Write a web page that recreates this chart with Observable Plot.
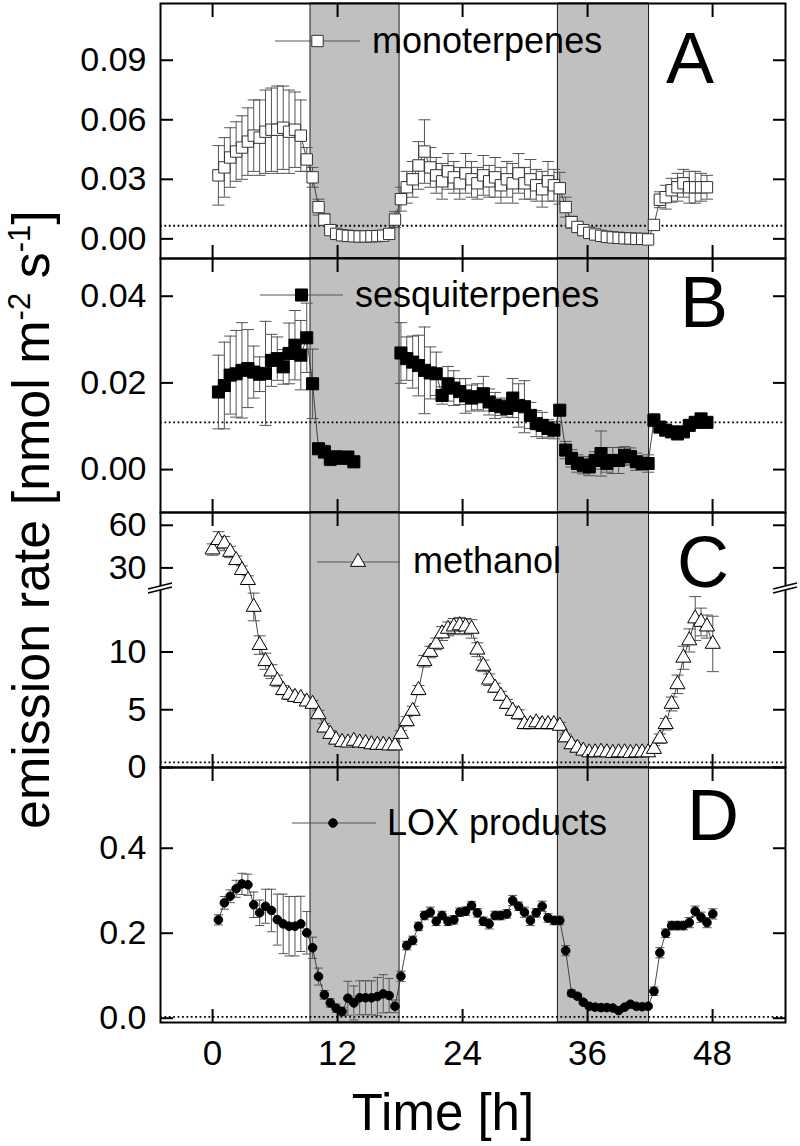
<!DOCTYPE html>
<html><head><meta charset="utf-8">
<script src="https://cdn.jsdelivr.net/npm/d3@7"></script>
<script src="https://cdn.jsdelivr.net/npm/@observablehq/plot@0.6"></script>
<style>
body{margin:0;background:#fff;}
#chart{position:relative;width:800px;height:1146px;font-family:"Liberation Sans",Arial,sans-serif;}
#chart svg{position:absolute;left:0;}
</style></head><body><div id="chart"></div>
<script>
// ---------- data ----------
const hours = [0.00,0.56,1.13,1.69,2.26,2.82,3.39,3.95,4.52,5.08,
 5.65,6.21,6.78,7.34,7.91,8.47,9.04,9.60,10.17,10.73,
 11.30,11.86,12.43,12.99,13.56,14.12,14.69,15.25,15.82,16.38,
 16.95,17.51,18.08,18.64,19.21,19.77,20.34,20.90,21.47,22.03,
 22.60,23.16,23.73,24.29,24.86,25.42,25.99,26.55,27.12,27.68,
 28.25,28.81,29.38,29.94,30.51,31.07,31.64,32.20,32.77,33.33,
 33.90,34.46,35.03,35.59,36.16,36.72,37.29,37.85,38.42,38.98,
 39.55,40.11,40.68,41.24,41.81,42.37,42.94,43.50,44.07,44.63,
 45.20,45.76,46.33,46.89,47.46,48.02];
const nightStart = [9.4, 33.15];
const nightEnd = [17.95, 41.9];
const xTicks = [0, 12, 24, 36, 48];
const seriesNames = ["monoterpenes", "sesquiterpenes", "methanol", "LOX products"];
const panelLetters = ["A", "B", "C", "D"];

const mono = [0.032,0.036,0.041,0.044,0.046,0.049,0.052,0.051,0.054,0.055,0.055,0.056,0.054,0.055,0.052,
 0.040,0.031,0.016,0.0097,0.0044,0.0025,0.0018,0.0015,0.0013,0.0012,0.0012,0.0013,0.0014,0.0016,0.0025,0.0097,
 0.020,0.026,0.030,0.037,0.044,0.036,0.032,0.029,0.034,0.031,0.028,0.033,0.030,0.028,0.032,0.029,0.031,0.027,0.030,0.028,0.033,0.028,0.030,0.027,0.025,0.029,0.027,0.0255,
 0.016,0.0084,0.006,0.0044,0.003,0.0022,0.0015,0.001,0.0007,0.0005,0.0003,0.0002,0.0,0.0,-0.0003,
 0.007,0.0197,0.021,0.0245,0.026,0.028,0.026,0.026,0.026,0.026];
const monoErr = [0.015,0.015,0.015,0.015,0.016,0.017,0.018,0.019,0.021,0.021,0.022,0.021,0.021,0.019,0.018,
 0.006,0.005,0.004,0.003,0.002,0.002,0.0015,0.0015,0.0015,0.0015,0.0015,0.0015,0.0015,0.0015,0.002,0.004,
 0.006,0.008,0.009,0.012,0.016,0.010,0.009,0.009,0.009,0.008,0.008,0.010,0.009,0.008,0.010,0.008,0.010,0.009,0.009,0.010,0.010,0.008,0.010,0.008,0.009,0.010,0.008,0.008,
 0.005,0.003,0.002,0.002,0.0015,0.0015,0.0015,0.0015,0.0015,0.0015,0.0015,0.0015,0.0015,0.0015,0.0015,
 0.002,0.004,0.006,0.006,0.007,0.007,0.008,0.008,0.007,0.006];

const sesq = [0.0179,0.0194,0.0218,0.0221,0.0229,0.0233,0.0225,0.0220,0.0222,0.0252,0.0256,0.0237,0.0268,0.0287,0.0264,0.0304,0.0198,0.0048,0.0041,0.0024,0.0029,0.0026,0.0029,0.0018,
 null,null,null,null,null,null,null,
 0.0269,0.0256,0.0248,0.0240,0.0229,0.0223,0.0221,0.0171,0.0198,0.0188,0.0180,0.0170,0.0165,0.0168,0.0175,0.0156,0.0148,0.0145,0.0141,0.0165,0.0148,0.0145,0.0125,0.0106,0.0102,0.0095,0.0091,0.0137,
 0.0045,0.0026,0.0014,0.0010,0.0006,0.0021,0.0037,0.0014,0.0021,0.0021,0.0033,0.0030,0.0018,0.0014,0.0014,
 0.0114,0.0098,0.0091,0.0087,0.0083,0.0087,0.0102,0.0109,0.0117,0.0109];
const sesqErr = [0.0085,0.010,0.009,0.010,0.011,0.009,0.006,0.004,0.012,0.006,0.005,0.004,0.007,0.008,0.008,0.008,0.008,0.001,0.0015,0.0015,0.0015,0.0012,0.001,0.001,
 null,null,null,null,null,null,null,
 0.007,0.005,0.006,0.007,0.010,0.006,0.005,0.002,0.004,0.004,0.003,0.004,0.003,0.003,0.004,0.003,0.003,0.002,0.002,0.0045,0.005,0.006,0.003,0.003,0.003,0.002,0.002,0.001,
 0.002,0.002,0.002,0.002,0.002,0.002,0.0052,0.002,0.003,0.003,0.002,0.002,0.002,0.0015,0.002,
 0.0015,0.001,0.001,0.001,0.0015,0.001,0.001,0.001,0.001,0.001];

const meoh = [42.9,49.5,47.1,41.2,35.4,28.4,21.4,13.9,10.6,9.2,8.3,7.5,6.7,6.3,6.1,6.0,5.7,
 5.5,4.6,3.45,2.9,2.4,2.2,2.15,2.3,2.15,2.1,2.0,1.95,1.95,1.9,1.9,
 2.9,4.0,4.9,6.7,9.2,10.0,10.7,11.6,12.0,12.2,12.3,12.2,12.0,
 10.2,8.8,7.6,6.9,6.2,5.5,4.9,4.6,3.75,3.75,3.9,3.75,3.75,3.75,
 3.6,2.6,2.0,1.7,1.45,1.3,1.3,1.35,1.3,1.25,1.3,1.3,1.25,1.3,1.3,1.3,
 1.6,2.5,3.75,5.5,7.2,9.5,11.0,12.9,12.6,12.2,10.7];
const meohErr = [4,6,5,4,3,3,3,1.2,0.8,0.7,0.6,0.5,0.4,0.4,0.3,0.3,0.3,
 0.3,0.35,0.35,0.3,0.3,0.3,0.3,0.3,0.3,0.3,0.3,0.3,0.3,0.3,0.3,
 0.3,0.4,0.4,0.4,0.5,0.5,0.5,0.6,0.6,0.7,0.7,0.7,0.8,
 0.6,0.5,0.5,0.4,0.4,0.4,0.4,0.4,0.4,0.4,0.4,0.4,0.4,0.4,
 0.3,0.3,0.3,0.3,0.3,0.3,0.3,0.3,0.3,0.3,0.3,0.3,0.3,0.3,0.3,0.3,
 0.3,0.4,0.5,0.6,0.8,1.0,1.0,1.9,1.2,1.0,2.4];

const lox = [0.2315,0.2715,0.287,0.3045,0.316,0.314,0.267,0.248,0.2635,0.2535,0.232,0.222,0.2165,0.2165,0.222,
 0.201,0.1657,0.098,0.055,0.036,0.0235,0.0158,0.047,0.036,0.048,0.048,0.048,0.051,0.0574,0.0534,0.028,
 0.0988,0.171,0.183,0.216,0.2417,0.2494,0.228,0.2417,0.228,0.2315,0.2494,0.2518,0.265,0.248,0.228,0.222,0.2417,0.2417,0.2455,0.277,0.2635,0.2494,0.230,0.248,0.2635,0.236,0.230,0.230,
 0.159,0.0588,0.0518,0.0377,0.028,0.026,0.025,0.025,0.024,0.018,0.026,0.033,0.028,0.027,0.028,
 0.0635,0.154,0.200,0.218,0.218,0.218,0.225,0.2518,0.2376,0.225,0.2455];
const loxErr = [0.012,0.015,0.015,0.02,0.025,0.025,0.03,0.03,0.04,0.05,0.06,0.07,0.07,0.07,0.065,
 0.05,0.025,0.02,0.01,0.01,0.01,0.01,0.04,0.04,0.04,0.04,0.04,0.045,0.045,0.04,0.015,
 0.012,0.01,0.01,0.01,0.01,0.012,0.01,0.01,0.01,0.01,0.01,0.01,0.01,0.01,0.01,0.012,0.01,0.01,0.01,0.012,0.01,0.012,0.012,0.01,0.012,0.01,0.01,0.01,
 0.012,0.008,0.006,0.005,0.004,0.004,0.004,0.004,0.004,0.004,0.004,0.005,0.004,0.004,0.004,
 0.01,0.012,0.01,0.01,0.01,0.01,0.012,0.012,0.012,0.012,0.012];

const limits = [0.0066, 0.0109, 0.45, 0.003];
const yTicksA = [0, 0.03, 0.06, 0.09];
const yTicksB = [0, 0.02, 0.04];
const yTicksC = [0, 5, 10, 30, 60];
const yTicksD = [0, 0.2, 0.4];
// methanol axis: linear up to the break, compressed above it
const breakC = 15.5, topC = 69, compressC = 0.123;

// ---------- drawing ----------
const FONT = "'Liberation Sans', Arial, Helvetica, sans-serif";
const root = document.getElementById("chart");
const nightRows = nightStart.map((s, i) => ({start: s, end: nightEnd[i]}));
const capSymbol = {draw(ctx, size) { const w = Math.sqrt(size / Math.PI); ctx.moveTo(-w, 0); ctx.lineTo(w, 0); }};
const identity = v => v;

function panel(cfg) {
  const f = cfg.squeeze || identity;
  const rows = cfg.values.map((v, i) => ({t: hours[i + cfg.offset], v, e: cfg.errors[i]}));
  const valid = rows.filter(d => d.v != null);
  // tick positions in (possibly squeezed) scale units, labelled with the original values
  const tickPos = cfg.yTicks.map(f);
  const tickLabel = new Map(cfg.yTicks.map(t => [f(t), cfg.fmt(t)]));
  const marks = [
    Plot.rect(nightRows, {x1: "start", x2: "end", fill: "#c0c0c0", stroke: "#1a1a1a", strokeWidth: 1}),
    Plot.ruleY([cfg.limit], {y: d => f(d), stroke: "#000", strokeWidth: 1.8, strokeDasharray: "1.8,2.6"}),
    Plot.ruleX(valid, {x: "t", y1: d => f(d.v - d.e), y2: d => f(d.v + d.e), stroke: "#555", strokeWidth: 1}),
    Plot.dot(valid, {x: "t", y: d => f(d.v + d.e), symbol: capSymbol, r: cfg.cap, fill: "none", stroke: "#555", strokeWidth: 1}),
    Plot.dot(valid, {x: "t", y: d => f(d.v - d.e), symbol: capSymbol, r: cfg.cap, fill: "none", stroke: "#555", strokeWidth: 1}),
    Plot.line(rows, {x: "t", y: d => d.v == null ? null : f(d.v), stroke: "#333", strokeWidth: 0.9}),
    Plot.dot(valid, {x: "t", y: d => f(d.v), symbol: cfg.symbol, r: cfg.r, fill: cfg.fill, stroke: cfg.stroke, strokeWidth: 1}),
    Plot.frame({stroke: "#000", strokeWidth: 2}),
    Plot.axisY({ticks: tickPos, anchor: "left", tickSize: 13, dx: 13, tickFormat: () => "", label: null, strokeWidth: 2}),
    Plot.axisY({ticks: tickPos, anchor: "right", tickSize: 13, dx: -13, tickFormat: () => "", label: null, strokeWidth: 2}),
    Plot.axisX({ticks: xTicks, anchor: "top", tickSize: 13, dy: 13, tickFormat: () => "", label: null, strokeWidth: 2}),
    Plot.axisX({ticks: xTicks, anchor: "bottom", tickSize: 13, dy: -13, tickFormat: () => "", label: null, strokeWidth: 2}),
    Plot.axisY({ticks: tickPos, anchor: "left", tickSize: 0, tickPadding: 14, tickFormat: v => tickLabel.get(v), fontSize: 34, label: null, fill: "#000"})
  ];
  if (cfg.xLabels) marks.push(Plot.axisX({ticks: xTicks, anchor: "bottom", tickSize: 0, tickPadding: 18, tickFormat: d => String(d), fontSize: 35, label: null, fill: "#000"}));
  const p = Plot.plot({
    width: 800, height: cfg.height,
    marginLeft: 160, marginRight: 15, marginTop: cfg.mt, marginBottom: cfg.mb,
    x: {domain: [-5, 55]}, y: {domain: cfg.yDomain.map(f)},
    style: {background: "transparent", overflow: "visible", fontFamily: FONT, color: "#000"},
    marks
  });
  p.style.top = cfg.top + "px";
  root.appendChild(p);
  return p;
}

const fmt2 = d3.format(".2f"), fmt1 = d3.format(".1f");
const squeeze = v => v <= breakC ? v : breakC + (v - breakC) * compressC;
const pA = panel({values: mono, errors: monoErr, offset: 1, yDomain: [-0.0099, 0.1186], yTicks: yTicksA, fmt: fmt2,
  symbol: "square", r: 6.4, fill: "#fff", stroke: "#333", cap: 6, limit: limits[0], top: 0, height: 268, mt: 3, mb: 10});
const pB = panel({values: sesq, errors: sesqErr, offset: 1, yDomain: [-0.0099, 0.0487], yTicks: yTicksB, fmt: fmt2,
  symbol: "square", r: 6.8, fill: "#000", stroke: "#000", cap: 6, limit: limits[1], top: 248, height: 274, mt: 10, mb: 10});
const pC = panel({values: meoh, errors: meohErr, offset: 0, yDomain: [0, topC], squeeze, yTicks: yTicksC, fmt: d => String(d),
  symbol: "triangle", r: 5.6, fill: "#fff", stroke: "#000", cap: 6, limit: limits[2], top: 502, height: 275, mt: 10, mb: 10});
const pD = panel({values: lox, errors: loxErr, offset: 1, yDomain: [-0.0101, 0.59], yTicks: yTicksD, fmt: fmt1,
  symbol: "circle", r: 4.3, fill: "#000", stroke: "#000", cap: 4.5, limit: limits[3], top: 757, height: 389, mt: 10, mb: 124, xLabels: true});

// ---------- overlay: titles, legends, panel letters, axis break ----------
const ov = d3.create("svg").attr("width", 800).attr("height", 1146)
  .style("top", "0px").style("font-family", FONT).style("pointer-events", "none");

// y-axis title
const yt = ov.append("text").attr("transform", "translate(49,829) rotate(-90)").attr("font-size", 52).attr("fill", "#000");
yt.append("tspan").text("emission rate [nmol m");
yt.append("tspan").attr("font-size", 31).attr("dy", -19).text("-2");
yt.append("tspan").attr("dy", 19).text(" s");
yt.append("tspan").attr("font-size", 31).attr("dy", -19).text("-1");
yt.append("tspan").attr("dy", 19).text("]");

// x-axis title
ov.append("text").attr("x", 443).attr("y", 1130).attr("text-anchor", "middle").attr("font-size", 51).attr("fill", "#000").text("Time [h]");

// panel letters
const letterPos = [[690, 83], [704, 327], [703, 587], [713, 840]];
panelLetters.forEach((L, i) => ov.append("text").attr("x", letterPos[i][0]).attr("y", letterPos[i][1])
  .attr("text-anchor", "middle").attr("font-size", 72).attr("fill", "#000").text(L));

// legends
const legendLayout = [
  {x1: 275, x2: 360, y: 41, sx: 317.5, tx: 372, ty: 53, sym: d3.symbolSquare, r: 6.4, fill: "#fff", stroke: "#333"},
  {x1: 260, x2: 343, y: 295, sx: 301.5, tx: 355, ty: 307, sym: d3.symbolSquare, r: 6.8, fill: "#000", stroke: "#000"},
  {x1: 317, x2: 400, y: 562, sx: 358, tx: 413, ty: 573, sym: d3.symbolTriangle, r: 5.6, fill: "#fff", stroke: "#000"},
  {x1: 292, x2: 376, y: 823, sx: 333, tx: 387, ty: 835, sym: d3.symbolCircle, r: 4.3, fill: "#000", stroke: "#000"}
];
legendLayout.forEach((L, i) => {
  ov.append("line").attr("x1", L.x1).attr("x2", L.x2).attr("y1", L.y).attr("y2", L.y).attr("stroke", "#555").attr("stroke-width", 1);
  ov.append("path").attr("d", d3.symbol(L.sym, Math.PI * L.r * L.r)()).attr("transform", `translate(${L.sx},${L.y})`)
    .attr("fill", L.fill).attr("stroke", L.stroke).attr("stroke-width", 1);
  ov.append("text").attr("x", L.tx).attr("y", L.ty).attr("font-size", 36).attr("fill", "#000").text(seriesNames[i]);
});

// axis break marks on panel C
const yBreak = 502 + pC.scale("y").apply(breakC);
[160, 785].forEach(xb => {
  ov.append("path").attr("d", `M${xb-12},${yBreak+5}L${xb+12},${yBreak-1}L${xb+12},${yBreak-5}L${xb-12},${yBreak+1}Z`).attr("fill", "#fff");
  ov.append("line").attr("x1", xb-12).attr("y1", yBreak+5).attr("x2", xb+12).attr("y2", yBreak-1).attr("stroke", "#000").attr("stroke-width", 1.5);
  ov.append("line").attr("x1", xb-12).attr("y1", yBreak+1).attr("x2", xb+12).attr("y2", yBreak-5).attr("stroke", "#000").attr("stroke-width", 1.5);
});
root.appendChild(ov.node());
</script></body></html>
